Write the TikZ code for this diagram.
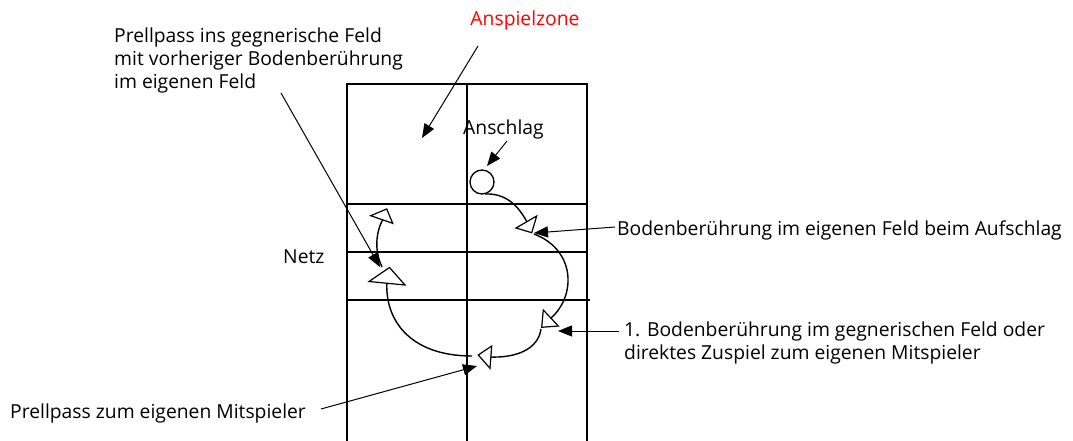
\documentclass[tikz,border=0pt]{standalone}
\usepackage{fontspec}
\setmainfont{Open Sans}
\usetikzlibrary{arrows.meta}
\begin{document}
\begin{tikzpicture}[x=1pt,y=-1pt,
  court/.style={line width=1.4pt},
  netline/.style={line width=1.1pt},
  path/.style={line width=1.4pt},
  opentip/.style={line width=1.2pt, fill=white, line join=miter},
  pointer/.style={line width=1pt, -{Triangle[length=14pt,width=11pt]}},
  lbl/.style={inner sep=0pt, anchor=base west, font=\fontsize{19.3}{23}\selectfont, align=left}]
\useasboundingbox (0,0) rectangle (1073,441);
% court
\draw[court] (347,441) -- (347,84) -- (587,84) -- (587,441);
\draw[court] (467,84) -- (467,441);
\draw[netline] (347,204) -- (587,204);
\draw[netline] (347,252) -- (587,252);
\draw[netline] (347,300) -- (590,300);
% ball
\node[draw, circle, line width=1.3pt, minimum size=24pt, inner sep=0pt] (ball) at (482,182) {};
% ball path curves
\draw[path] (485,194) .. controls (505,193) and (518,205) .. (527,222);
\draw[path] (534,234) .. controls (576,250) and (576,296) .. (551,318);
\draw[path] (541,329) .. controls (538,350) and (515,358) .. (490,357);
\draw[path] (472,356) .. controls (410,356) and (384,320) .. (387,280);
\draw[path] (382,267) .. controls (374,250) and (376,232) .. (383,219);
% open arrowheads
\draw[opentip] (516,228) -- (536.7,216) -- (531.7,232.7) -- cycle;
\draw[opentip] (543.3,310) -- (541.7,327.3) -- (558.3,326) -- cycle;
\draw[opentip] (478.3,355) -- (491.7,346) -- (490,368.3) -- cycle;
\draw[opentip] (369,281.5) -- (389.5,267.5) -- (405,285) -- cycle;
\draw[opentip] (370.7,215.7) -- (386.7,209) -- (392.7,223.3) -- cycle;
% labels
\node[lbl, anchor=base, text=red] (zone) at (525,26) {Anspielzone};
\node[lbl] (pass1) at (114,89) {Prellpass ins gegnerische Feld\\mit vorheriger Bodenberührung\\im eigenen Feld};
\node[lbl] (anschlag) at (463,135) {Anschlag};
\node[lbl] (netz) at (283,263) {Netz};
\node[lbl] (auf) at (617,235) {Bodenberührung im eigenen Feld beim Aufschlag};
\node[lbl] (erste) at (624,359) {1. Bodenberührung im gegnerischen Feld oder\\direktes Zuspiel zum eigenen Mitspieler};
\node[lbl] (pass2) at (10,418) {Prellpass zum eigenen Mitspieler};
% pointer coordinates
\coordinate (zoneS) at (478,46);   \coordinate (zoneT) at (422,138);
\coordinate (anS) at (507,141);    \coordinate (anT) at (487,166);
\coordinate (p1S) at (281,93);     \coordinate (p1T) at (380,267);
\coordinate (aufS) at (615,227);   \coordinate (aufT) at (534,233);
\coordinate (erS) at (619,331);    \coordinate (erT) at (558,331);
\coordinate (p2S) at (321,409);    \coordinate (p2T) at (477,366);
\draw[pointer] (zoneS) -- (zoneT);
\draw[pointer] (anS) -- (anT);
\draw[pointer] (p1S) -- (p1T);
\draw[pointer] (aufS) -- (aufT);
\draw[pointer] (erS) -- (erT);
\draw[pointer] (p2S) -- (p2T);
\end{tikzpicture}
\end{document}
